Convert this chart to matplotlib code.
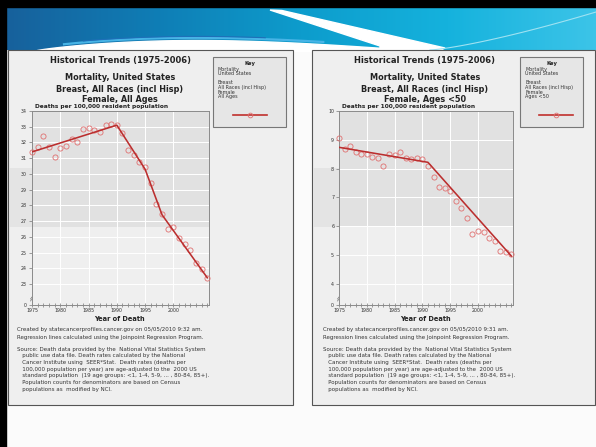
import numpy as np
import matplotlib
matplotlib.use("Agg")
import matplotlib.pyplot as plt
from matplotlib.patches import Rectangle, Polygon
from matplotlib.colors import LinearSegmentedColormap

# Breast cancer mortality, US females (deaths per 100,000)
years = list(range(1975, 2007))
rate_all_ages = [31.37, 31.69, 32.39, 31.74, 31.1, 31.63, 31.78, 32.19, 32.0, 32.86,
                 32.94, 32.8, 32.64, 33.1, 33.15, 33.1, 32.62, 31.52, 31.2, 30.78,
                 30.46, 29.4, 28.1, 27.45, 26.5, 26.6, 25.9, 25.53, 25.16, 24.36,
                 23.94, 23.36]
rate_under50 = [9.05, 8.67, 8.8, 8.59, 8.5, 8.5, 8.39, 8.36, 8.09, 8.51,
                8.47, 8.59, 8.38, 8.32, 8.38, 8.32, 8.1, 7.72, 7.35, 7.32,
                7.23, 6.88, 6.62, 6.28, 5.72, 5.85, 5.79, 5.58, 5.5, 5.15,
                5.12, 5.03]

# joinpoint regression segments
jp_all_years = [1975, 1990, 1995, 1998, 2006]
jp_all_rates = [31.4, 33.1, 30.3, 27.4, 23.4]
jp_u50_years = [1975, 1991, 2006]
jp_u50_rates = [8.74, 8.22, 4.97]

xticks = [1975, 1980, 1985, 1990, 1995, 2000]
yticks_all = list(range(23, 35))
yticks_u50 = list(range(4, 11))

title_lines = ["Mortality, United States", "Breast, All Races (incl Hisp)"]
key_lines = ["Mortality", "United States", "", "Breast", "All Races (incl Hisp)", "Female"]
footer_created = ["Created by statecancerprofiles.cancer.gov on 05/05/2010 9:32 am.",
                  "Regression lines calculated using the Joinpoint Regression Program."]
footer_created_r = ["Created by statecancerprofiles.cancer.gov on 05/05/2010 9:31 am.",
                    "Regression lines calculated using the Joinpoint Regression Program."]
footer_source = ["Source: Death data provided by the  National Vital Statistics System",
                 "   public use data file. Death rates calculated by the National",
                 "   Cancer Institute using  SEER*Stat.  Death rates (deaths per",
                 "   100,000 population per year) are age-adjusted to the  2000 US",
                 "   standard population  (19 age groups: <1, 1-4, 5-9, ... , 80-84, 85+).",
                 "   Population counts for denominators are based on Census",
                 "   populations as  modified by NCI."]

W, H = 596, 447
fig = plt.figure(figsize=(W / 100, H / 100), dpi=100)
bg = fig.add_axes([0, 0, 1, 1])
bg.axis("off")

# slide background and header wave
bg.add_patch(Rectangle((0, 0), W, H, color="#fbfbfb", zorder=0))
cm = LinearSegmentedColormap.from_list("hdr", ["#17619c", "#0f7db5", "#0d9ccc", "#15b2dd", "#3cc4e8"])
bg.imshow(np.linspace(0, 1, 300)[None, :], cmap=cm, extent=(6, W, 50.5, 6.5),
          aspect="auto", zorder=1)
xs = np.linspace(35, 420, 200)
top = 50.5 - 10.5 * np.sin(np.pi * ((xs - 35) / 385) ** 0.8)
bg.plot(xs[15:150], top[15:150] - 2.2, color="#47b4e6", lw=1.6, zorder=2)
bg.plot(xs[25:120], top[25:120] - 3.6, color="#1f6fb8", lw=0.8, zorder=2)
bg.fill_between(xs, top, 51, color="white", zorder=2)
bg.add_patch(Polygon([(270, 10), (282, 10.5), (445, 48), (440, 50.5), (380, 50.5), (380, 46)],
                     color="white", zorder=2))
xs2 = np.linspace(430, 596, 60)
bg.plot(xs2, 50 - 38 * ((xs2 - 430) / 166) ** 1.3, color="#9fe2f2", lw=0.8, zorder=2)
bg.add_patch(Rectangle((0, 0), W, 6.5, color="black", zorder=3))
bg.add_patch(Rectangle((0, 0), 6, H, color="black", zorder=3))


def draw_panel(g, rates, jp_x, jp_y, yticks, ybreak, age_label, created):
    px0, px1 = g["panel"]
    bg.add_patch(Rectangle((px0, 50), px1 - px0, 355, fc="#efefef", ec="#555555", lw=0.8, zorder=4))
    ax0, ax1 = g["axes"]
    bg.add_patch(Rectangle((px0 + 1, 168), ax1 - px0 - 1, 59, fc="#e4e4e4", lw=0, zorder=4))

    cx = g["cx"]
    bg.text(cx, 61, "Historical Trends (1975-2006)", ha="center", va="center",
            fontsize=6.0, fontweight="bold", color="#222", zorder=5)
    for i, s in enumerate(title_lines + ["Female, " + age_label]):
        bg.text(cx, 78 + 11 * i, s, ha="center", va="center", fontsize=5.9,
                fontweight="bold", color="#222", zorder=5)
    bg.text(ax0 + 3, 106.5, "Deaths per 100,000 resident population", ha="left", va="center",
            fontsize=4.2, fontweight="bold", color="#222", zorder=5)
    bg.text((ax0 + ax1) / 2 - 1, 319, "Year of Death", ha="center", va="center",
            fontsize=4.8, fontweight="bold", color="#222", zorder=5)
    tx = g["tx"]
    for i, s in enumerate(created):
        bg.text(tx, 330 + 7.3 * i, s, ha="left", va="center", fontsize=4.0, color="#333", zorder=5)
    for i, s in enumerate(footer_source):
        bg.text(tx, 349.3 + 6.67 * i, s, ha="left", va="center", fontsize=4.0, color="#333", zorder=5)

    # key box
    k0, k1 = g["key"]
    bg.add_patch(Rectangle((k0, 57), k1 - k0, 70, fc="#e6e6e6", ec="#777777", lw=0.8, zorder=5))
    bg.text((k0 + k1) / 2, 63.5, "Key", ha="center", va="center", fontsize=3.8,
            fontweight="bold", color="#222", zorder=6)
    for i, s in enumerate(key_lines + [age_label]):
        bg.text(k0 + 5, 69 + 4.6 * i, s, ha="left", va="center", fontsize=3.5, color="#333", zorder=6)
    l0, l1 = g["keyline"]
    bg.plot([l0, l1], [115, 115], color="#c0302c", lw=1.2, zorder=6)
    bg.plot([(l0 + l1) / 2], [115], "o", mfc="none", mec="#e07070", ms=3.4, mew=0.6, zorder=7)

    # broken-axis mark
    bg.plot([ax0 - 1.5, ax0 + 1.5], [299, 295], color="#777", lw=0.5, zorder=8)
    bg.plot([ax0 - 1.5, ax0 + 1.5], [301, 297], color="#777", lw=0.5, zorder=8)

    ax = fig.add_axes([ax0 / W, 1 - 305 / H, (ax1 - ax0) / W, 194 / H], zorder=6)
    ax.set_facecolor("#efefef")
    frac = (305 - 227) / 194
    ax.add_patch(Rectangle((0, frac), 1, 1 - frac, transform=ax.transAxes,
                           fc="#e1e1e1", lw=0, zorder=0.1))
    ax.set_axisbelow(True)
    ax.grid(True, color="white", lw=0.7)
    ax.plot(years, rates, "o", mfc="none", mec="#e07070", ms=3.7, mew=0.6, zorder=3, clip_on=False)
    ax.plot(jp_x, jp_y, color="#bb2e2e", lw=1.15, zorder=4)
    ax.set_xlim(1975, 2006.3)
    ax.set_ylim(ybreak, yticks[-1])
    ax.set_xticks(xticks)
    ax.set_xticks(years, minor=True)
    ax.set_yticks([ybreak] + yticks)
    ax.set_yticklabels(["0"] + [str(t) for t in yticks])
    ax.tick_params(axis="x", which="both", direction="inout", length=2.2, width=0.5,
                   colors="#777", labelcolor="#333", labelsize=3.4, pad=1)
    ax.tick_params(axis="y", length=2, width=0.5, colors="#777", labelcolor="#333",
                   labelsize=3.4, pad=1.5)
    for sp in ax.spines.values():
        sp.set_color("#8a8a8a")
        sp.set_linewidth(0.7)
    return ax


left = {"panel": (8, 293), "axes": (32, 209), "key": (213, 286), "keyline": (233, 267),
        "cx": 120, "tx": 17}
right = {"panel": (312, 595), "axes": (339, 513), "key": (520, 583), "keyline": (539, 573),
         "cx": 425, "tx": 323}

draw_panel(left, rate_all_ages, jp_all_years, jp_all_rates, yticks_all, 21.67, "All Ages", footer_created)
draw_panel(right, rate_under50, jp_u50_years, jp_u50_rates, yticks_u50, 3.27, "Ages <50", footer_created_r)

bg.set_xlim(0, W)
bg.set_ylim(H, 0)

fig.savefig("out.png", dpi=100)
